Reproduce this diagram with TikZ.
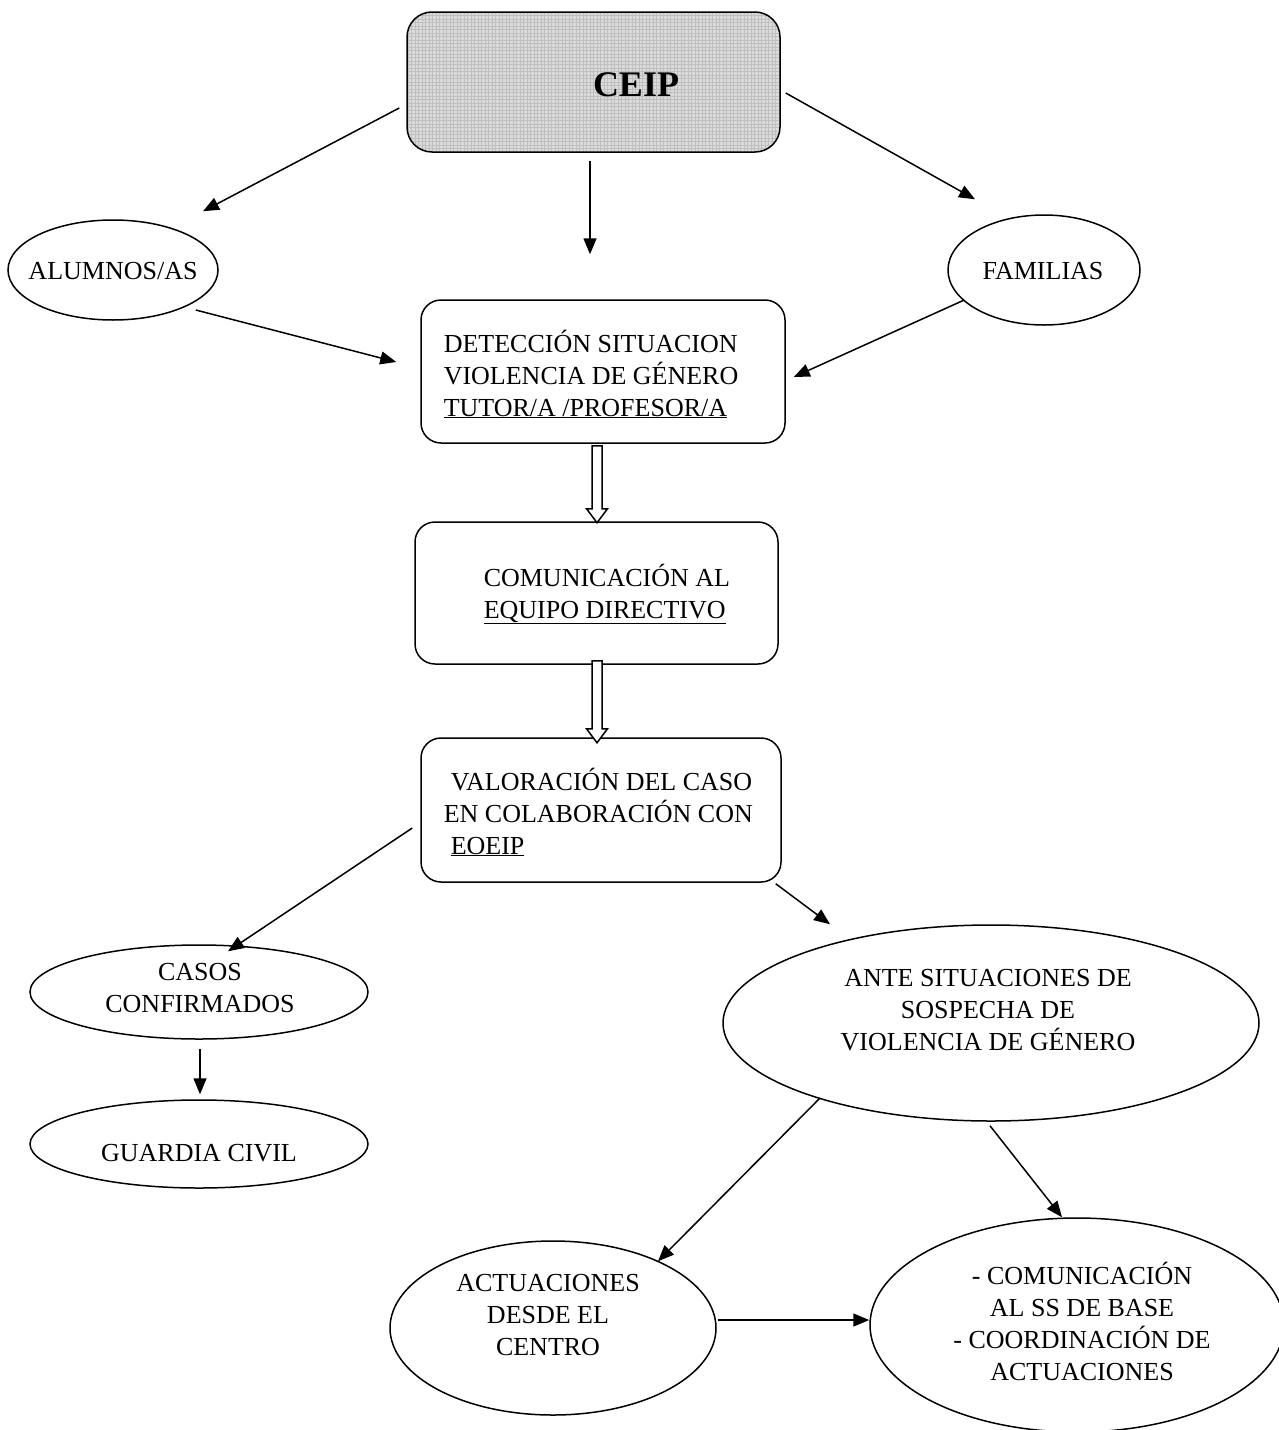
\documentclass[tikz,border=0pt]{standalone}
\usepackage{fontspec}
\setmainfont{Liberation Serif}
\usetikzlibrary{arrows.meta,shapes.geometric}

\begin{document}
\begin{tikzpicture}[x=1pt,y=-1pt,line width=1.5pt,
  rbox/.style={draw,rounded corners=20pt,inner sep=0pt},
  ceipbox/.style={draw,rounded corners=25pt,inner sep=0pt,fill=black!14,
    path picture={\draw[line width=0.5pt,black!25,step=3.5pt]
      (path picture bounding box.south west) grid (path picture bounding box.north east);}},
  oval/.style={draw,ellipse,inner sep=0pt},
  txt/.style={font=\fontsize{26}{32}\selectfont,inner sep=0pt},
  ltxt/.style={txt,align=left},
  ctxt/.style={txt,align=center},
  arr/.style={-{Triangle[length=16pt,width=13pt]}},
  hollow/.style={draw,fill=white,line width=1.5pt,line join=miter}]
\useasboundingbox (0,0) rectangle (1279,1430);
\clip (0,0) rectangle (1279,1430);

% boxes
\node[ceipbox,minimum width=373pt,minimum height=140pt] (ceip) at (593.5,82) {};
\node[font=\fontsize{36}{40}\selectfont\bfseries,inner sep=0pt] (ceipt) at (636,85) {CEIP};

\node[rbox,minimum width=364pt,minimum height=143pt] (det) at (603,371.5) {};
\node[ltxt,anchor=base west] (dett) at (443,416)
  {DETECCIÓN SITUACION\\VIOLENCIA DE GÉNERO\\\underline{TUTOR/A /PROFESOR/A}};

\node[rbox,minimum width=363pt,minimum height=142pt] (com) at (596.5,593) {};
\node[ltxt,anchor=base west] (comt) at (483,618)
  {COMUNICACIÓN AL\\\underline{EQUIPO DIRECTIVO}};

\node[rbox,minimum width=360pt,minimum height=144pt] (val) at (601,810) {};
\node[ltxt,anchor=base west] (valt) at (443,854)
  {\hspace*{7pt}VALORACIÓN DEL CASO\\EN COLABORACIÓN CON\\\hspace*{7pt}\underline{EOEIP}};

% ellipses
\node[oval,minimum width=210pt,minimum height=100pt] (alu) at (113,270) {};
\node[ctxt] (alut) at (113,271) {ALUMNOS/AS};
\node[oval,minimum width=192pt,minimum height=110pt] (fam) at (1044,270) {};
\node[ctxt] (famt) at (1043,271) {FAMILIAS};

\node[oval,minimum width=338pt,minimum height=94pt] (casos) at (199,992) {};
\node[ctxt] (casost) at (200,988) {CASOS\\CONFIRMADOS};
\node[oval,minimum width=338pt,minimum height=88pt] (guard) at (199,1144) {};
\node[ctxt] (guardt) at (199,1153) {GUARDIA CIVIL};

\node[oval,minimum width=536pt,minimum height=196pt] (ante) at (991,1023) {};
\node[ctxt] (antet) at (988,1010) {ANTE SITUACIONES DE\\SOSPECHA DE\\VIOLENCIA DE GÉNERO};

\node[oval,minimum width=326pt,minimum height=174pt] (act) at (553,1328) {};
\node[ctxt] (actt) at (548,1315) {ACTUACIONES\\DESDE EL\\CENTRO};

\node[oval,minimum width=414pt,minimum height=214pt] (coord) at (1077,1325) {};
\node[ctxt] (coordt) at (1082,1321) {- COMUNICACIÓN\\AL SS DE BASE\\- COORDINACIÓN DE\\ACTUACIONES};

% connectors
\draw[arr] ([shift={(-7,26)}]ceip.west) -- ([shift={(90,-8)}]alu.north);
\draw[arr] ([shift={(-3.5,8)}]ceip.south) -- ([shift={(-13,-45)}]det.north);
\draw[arr] ([shift={(5,11)}]ceip.east) -- ([shift={(-69,-15)}]fam.north);
\draw[arr] ([shift={(-23,40)}]alu.east) -- ([shift={(-24,-9.5)}]det.west);
\draw[arr] ([shift={(17,30)}]fam.west) -- ([shift={(8,5.5)}]det.east);

% hollow block arrows between the stacked boxes
\draw[hollow] ([shift={(-11,2)}]det.south) -- ++(10,0) -- ++(0,63) -- ++(5.5,0)
  -- ++(-10.5,14) -- ++(-10.5,-14) -- ++(5.5,0) -- cycle;
\draw[hollow] ([shift={(-4.5,-4)}]com.south) -- ++(10,0) -- ++(0,68) -- ++(5.5,0)
  -- ++(-10.5,14) -- ++(-10.5,-14) -- ++(5.5,0) -- cycle;

\draw[arr] ([shift={(-8,18)}]val.west) -- ([shift={(29,7)}]casos.north);
\draw[arr] ([shift={(-6,1)}]val.south east) -- ([shift={(-161,0)}]ante.north);
\draw[arr] ([shift={(1,9)}]casos.south) -- ([shift={(1,-5)}]guard.north);
\draw[arr] ([shift={(-171,75)}]ante.center) -- ([shift={(105,21)}]act.north);
\draw[arr] ([shift={(-1,4)}]ante.south) -- ([shift={(-15,0)}]coord.north);
\draw[arr] ([shift={(1,-8)}]act.east) -- ([shift={(0,-5)}]coord.west);
\end{tikzpicture}
\end{document}
